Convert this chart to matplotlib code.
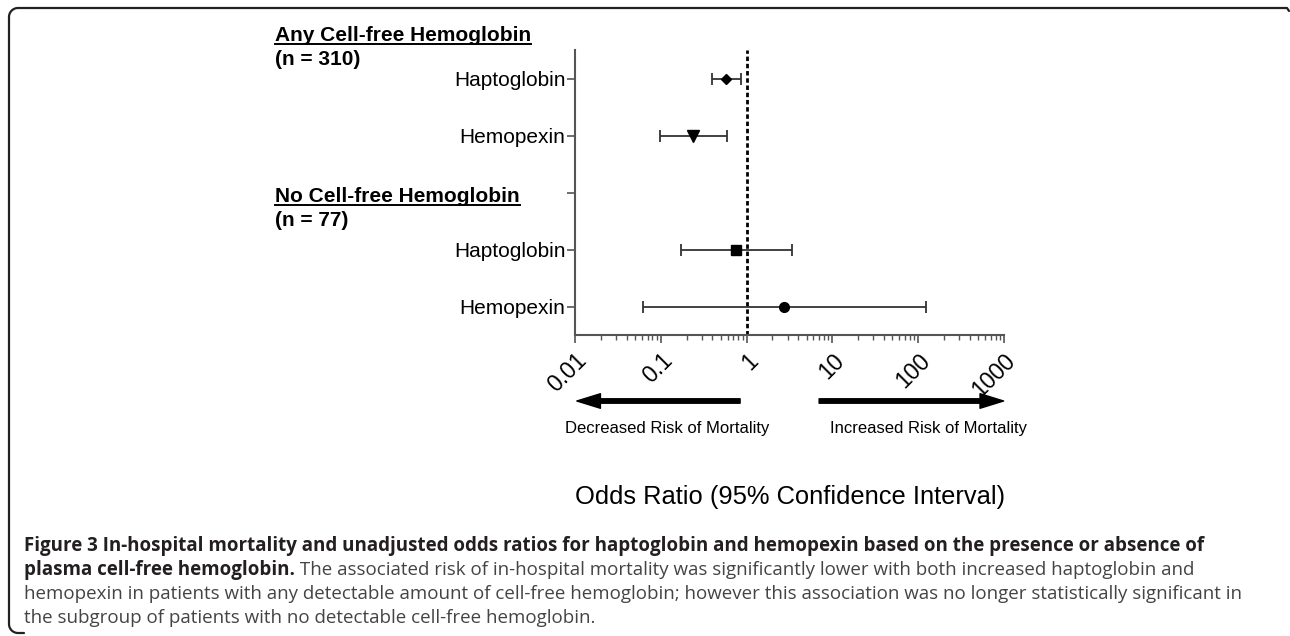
import numpy as np
import matplotlib
matplotlib.use('Agg')
import matplotlib.pyplot as plt
from matplotlib.lines import Line2D
from matplotlib.ticker import LogLocator, NullFormatter, FixedLocator, FixedFormatter

# ---------------- data ----------------
row_labels = ['Haptoglobin', 'Hemopexin', '', 'Haptoglobin', 'Hemopexin']
row_pos = [0, 1, 3, 4]
or_vals = [0.575, 0.24, 0.75, 2.75]
ci_low = [0.39, 0.098, 0.17, 0.062]
ci_high = [0.86, 0.59, 3.35, 122]
markers = ['D', 'v', 's', 'o']
marker_sizes = [5, 9, 7, 7]
xticks = [0.01, 0.1, 1, 10, 100, 1000]
xtick_labels = ['0.01', '0.1', '1', '10', '100', '1000']
group_titles = ['Any Cell-free Hemoglobin', 'No Cell-free Hemoglobin']
group_n = ['(n = 310)', '(n = 77)']
xlabel = 'Odds Ratio (95% Confidence Interval)'
arrow_labels = ['Decreased Risk of Mortality', 'Increased Risk of Mortality']
caption_bold1 = ('Figure 3 In-hospital mortality and unadjusted odds ratios for haptoglobin '
                 'and hemopexin based on the presence or absence of')
caption_bold2 = 'plasma cell-free hemoglobin.'
caption_rest2 = (' The associated risk of in-hospital mortality was significantly lower with '
                 'both increased haptoglobin and')
caption_line3 = ('hemopexin in patients with any detectable amount of cell-free hemoglobin; '
                 'however this association was no longer statistically significant in')
caption_line4 = 'the subgroup of patients with no detectable cell-free hemoglobin.'

W, H = 1290, 636
plt.rcParams['font.family'] = ['Liberation Sans', 'DejaVu Sans']
fig = plt.figure(figsize=(W / 100, H / 100), dpi=100)


def fx(px):
    return px / W


def fy(py):
    return 1 - py / H


# ---------------- axes ----------------
ax = fig.add_axes([fx(575), fy(335), (1004 - 575) / W, (335 - 50) / H])
ax.set_xscale('log')
ax.set_xlim(xticks[0], xticks[-1])
ax.set_ylim(4.5, -0.5)

ax.axvline(1, color='black', ls=(0, (1.6, 1.0)), lw=2, zorder=1)

for i, y in enumerate(row_pos):
    ax.errorbar(or_vals[i], y,
                xerr=[[or_vals[i] - ci_low[i]], [ci_high[i] - or_vals[i]]],
                fmt=markers[i], ms=marker_sizes[i], color='black',
                ecolor='#333333', elinewidth=1.3, capsize=4, capthick=1.3, zorder=3)

for s in ['top', 'right']:
    ax.spines[s].set_visible(False)
for s in ['left', 'bottom']:
    ax.spines[s].set_color('#555555')
    ax.spines[s].set_linewidth(1.5)

ax.set_yticks(range(len(row_labels)))
ax.set_yticklabels(row_labels, fontsize=15)
ax.tick_params(axis='y', length=6, width=1.2, color='#555555', pad=1)

ax.xaxis.set_major_locator(FixedLocator(xticks))
ax.xaxis.set_major_formatter(FixedFormatter(xtick_labels))
ax.xaxis.set_minor_locator(LogLocator(base=10, subs=np.arange(2, 10), numticks=20))
ax.xaxis.set_minor_formatter(NullFormatter())
ax.tick_params(axis='x', which='major', length=6, width=1.2, color='#555555', labelsize=16.5, pad=4)
ax.tick_params(axis='x', which='minor', length=3.5, width=1.0, color='#555555')
for lab in ax.get_xticklabels():
    lab.set_rotation(45)
    lab.set_rotation_mode('anchor')
    lab.set_ha('right')
    lab.set_va('top')

# arrows below axis
trans = ax.get_xaxis_transform()
ay = (335 - 401) / (335 - 50)
astyle = 'simple,head_length=1.7,head_width=1.05,tail_width=0.32'
ax.annotate('', xy=(0.0105, ay), xytext=(0.84, ay), xycoords=trans, textcoords=trans,
            arrowprops=dict(arrowstyle=astyle, mutation_scale=10, color='black',
                            shrinkA=0, shrinkB=0), annotation_clip=False)
ax.annotate('', xy=(990, ay), xytext=(7.0, ay), xycoords=trans, textcoords=trans,
            arrowprops=dict(arrowstyle=astyle, mutation_scale=10, color='black',
                            shrinkA=0, shrinkB=0), annotation_clip=False)
fig.text(fx(667), fy(428), arrow_labels[0], fontsize=12, ha='center', va='center')
fig.text(fx(928), fy(428), arrow_labels[1], fontsize=12, ha='center', va='center')

fig.text(fx(790), fy(497), xlabel, fontsize=18.4, ha='center', va='center')

# group headers
hdr = []
for title, n, by in zip(group_titles, group_n, [41, 202]):
    t = fig.text(fx(275), fy(by), title, fontsize=15, fontweight='bold', va='baseline')
    hdr.append((t, by))
    fig.text(fx(275), fy(by + 24), n, fontsize=15, fontweight='bold', va='baseline')

# caption
cap_font = 'Open Sans'
bold_col = '#231f20'
norm_col = '#444444'
c1 = fig.text(fx(24), fy(551), caption_bold1, fontsize=12, family=cap_font,
              fontweight='bold', color=bold_col, va='baseline')
c2a = fig.text(fx(24), fy(575), caption_bold2, fontsize=12, family=cap_font,
               fontweight='bold', color=bold_col, va='baseline')
c3 = fig.text(fx(24), fy(599), caption_line3, fontsize=12, family=cap_font,
              color=norm_col, va='baseline')
c4 = fig.text(fx(24), fy(623), caption_line4, fontsize=12, family=cap_font,
              color=norm_col, va='baseline')

fig.canvas.draw()
r = fig.canvas.get_renderer()
w3 = c3.get_window_extent(r).width
fs = 12 * (1235 - 24) / w3
for c in (c1, c2a, c3, c4):
    c.set_fontsize(fs)
fig.canvas.draw()
bb = c2a.get_window_extent(r)
fig.text(bb.x1 / W, fy(575), caption_rest2, fontsize=fs, family=cap_font,
         color=norm_col, va='baseline')

# underlines
for t, by in hdr:
    e = t.get_window_extent(r)
    fig.add_artist(Line2D([e.x0 / W, e.x1 / W], [fy(by + 3), fy(by + 3)],
                          color='black', lw=1.4, transform=fig.transFigure))

# frame (rounded top-left and bottom-left corners)
rad = 9
xl, yt, yb, xr = 9, 8, 633, 1287
th = np.linspace(np.pi, np.pi / 2, 20)
tl_x = xl + rad + rad * np.cos(th)
tl_y = yt + rad - rad * np.sin(th)
th2 = np.linspace(np.pi, 3 * np.pi / 2, 20)
bl_x = xl + rad + rad * np.cos(th2)
bl_y = yb - rad - rad * np.sin(th2)
px = np.concatenate([[xl + rad + 6], bl_x[::-1], tl_x, [xr, xr + 2]])
py = np.concatenate([[yb], bl_y[::-1], tl_y, [yt, yt + 3]])
fig.add_artist(Line2D(px / W, 1 - py / H, color='#222222', lw=1.6,
                      transform=fig.transFigure, solid_capstyle='round'))

fig.savefig('out.png', dpi=100)
